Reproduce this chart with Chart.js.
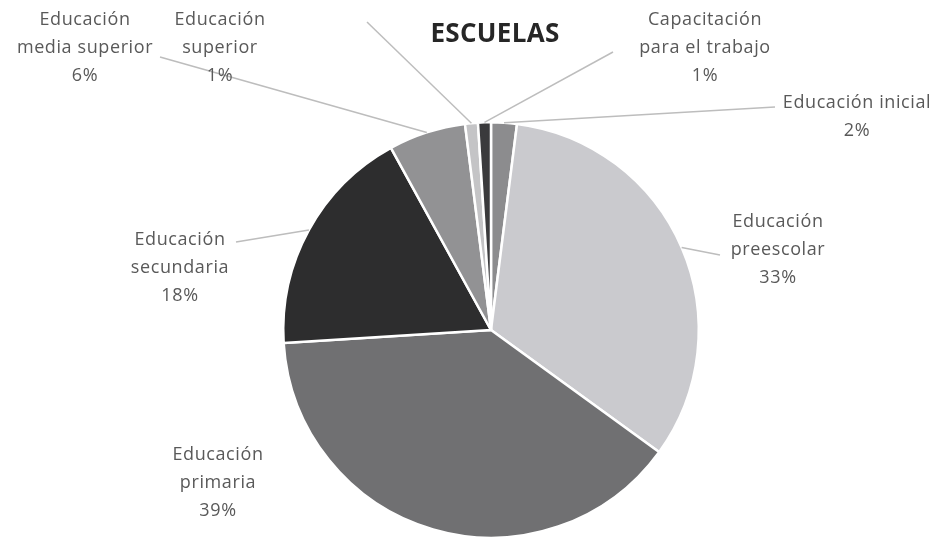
<!DOCTYPE html>
<html>
<head>
<meta charset="utf-8">
<script src="https://cdn.jsdelivr.net/npm/chart.js@4"></script>
<style>
html,body{margin:0;padding:0;background:#fff;}
#wrap{width:937px;height:542px;position:relative;}
</style>
</head>
<body>
<div id="wrap"><canvas id="c" width="937" height="542"></canvas></div>
<script>
const title = 'ESCUELAS';
const categories = [
  ['Educación', 'inicial'],
  ['Educación', 'preescolar'],
  ['Educación', 'primaria'],
  ['Educación', 'secundaria'],
  ['Educación', 'media superior'],
  ['Educación', 'superior'],
  ['Capacitación', 'para el trabajo']
];
const values = [2, 33, 39, 18, 6, 1, 1];
const percentLabels = ['2%', '33%', '39%', '18%', '6%', '1%', '1%'];
const colors = ['#8c8c8e', '#cacace', '#707072', '#2d2d2e', '#929294', '#c4c4c6', '#3a3a3c'];

// label layout: centre x, first line centre y, leader line start (or null)
const labelLayout = [
  {lines: ['Educación inicial', '2%'], x: 857, y: 103, line: [775, 107]},
  {lines: ['Educación', 'preescolar', '33%'], x: 778, y: 222, line: [720, 255]},
  {lines: ['Educación', 'primaria', '39%'], x: 218, y: 455, line: null},
  {lines: ['Educación', 'secundaria', '18%'], x: 180, y: 240, line: [236, 242]},
  {lines: ['Educación', 'media superior', '6%'], x: 85, y: 20, line: [160, 57]},
  {lines: ['Educación', 'superior', '1%'], x: 220, y: 20, line: [367, 22]},
  {lines: ['Capacitación', 'para el trabajo', '1%'], x: 705, y: 20, line: [613, 52]}
];

const labelPlugin = {
  id: 'outLabels',
  afterDatasetsDraw(chart) {
    const ctx = chart.ctx;
    const meta = chart.getDatasetMeta(0);
    ctx.save();
    ctx.strokeStyle = '#bdbdbd';
    ctx.lineWidth = 1.5;
    meta.data.forEach((arc, i) => {
      const L = labelLayout[i];
      if (!L.line) return;
      const mid = (arc.startAngle + arc.endAngle) / 2;
      const px = arc.x + Math.cos(mid) * arc.outerRadius;
      const py = arc.y + Math.sin(mid) * arc.outerRadius;
      ctx.beginPath();
      ctx.moveTo(L.line[0], L.line[1]);
      ctx.lineTo(px, py);
      ctx.stroke();
    });
    ctx.fillStyle = '#595959';
    ctx.font = '18px "Open Sans", sans-serif';
    ctx.letterSpacing = '0.6px';
    ctx.textAlign = 'center';
    ctx.textBaseline = 'middle';
    labelLayout.forEach((L) => {
      L.lines.forEach((t, k) => {
        ctx.fillText(t, L.x, L.y + k * 28);
      });
    });
    ctx.fillStyle = '#262626';
    ctx.font = 'bold 26px "Open Sans", sans-serif';
    ctx.letterSpacing = '0.3px';
    ctx.fillText(title, 495, 35);
    ctx.restore();
  }
};

new Chart(document.getElementById('c'), {
  type: 'pie',
  data: {
    labels: categories,
    datasets: [{
      data: values,
      backgroundColor: colors,
      borderColor: '#ffffff',
      borderWidth: 2.5
    }]
  },
  options: {
    responsive: false,
    animation: false,
    layout: {padding: {top: 120, bottom: 2, left: 282, right: 237}},
    plugins: {
      legend: {display: false},
      title: {display: false},
      tooltip: {enabled: false}
    }
  },
  plugins: [labelPlugin]
});
</script>
</body>
</html>
